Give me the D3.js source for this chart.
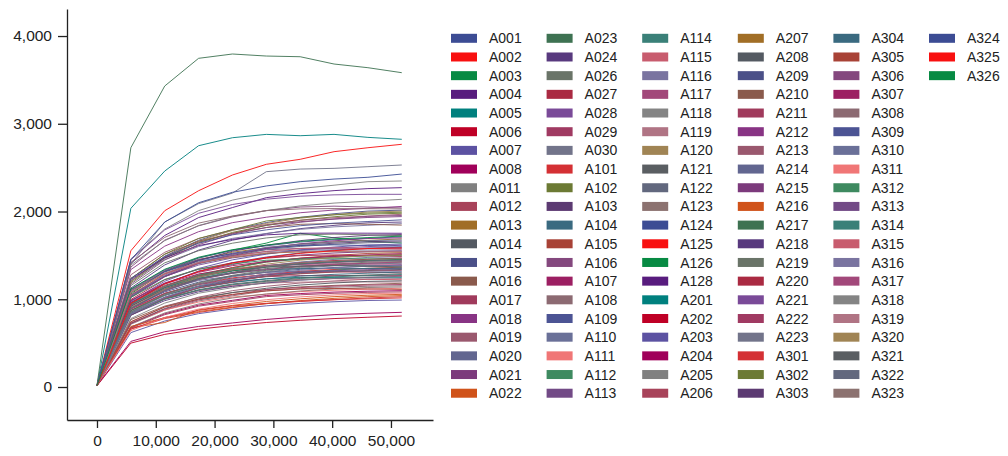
<!DOCTYPE html>
<html>
<head>
<meta charset="utf-8">
<script src="https://cdn.jsdelivr.net/npm/d3@7"></script>
<style>
  html, body { margin: 0; padding: 0; background: #fff; }
  svg { display: block; font-family: "Liberation Sans", Arial, sans-serif; }
</style>
</head>
<body>
<div id="chart"></div>
<script>
// x positions shared by every series
const xValues = [0, 5760, 11520, 17280, 23040, 28800, 34560, 40320, 46080, 51840];

const xTicks = [0, 10000, 20000, 30000, 40000, 50000];
const yTicks = [0, 1000, 2000, 3000, 4000];

// series colours, the legend cycles through these 50
const palette = [
  "#3c4c94", "#f81010", "#078a43", "#581c7e", "#00807e", "#bf0026", "#5c52a2", "#a0005a", "#808080", "#a8435a",
  "#a16e26", "#545a62", "#4b5088", "#8a5a4c", "#a03a5c", "#883484", "#9a586e", "#626690", "#7c3a7c", "#d0531a",
  "#3e7252", "#58397e", "#6a7468", "#aa2a42", "#7a4a98", "#a03a62", "#72748a", "#d43034", "#6c7a34", "#5c3a72",
  "#3a6a80", "#a84236", "#84487e", "#9c1f62", "#8c6a72", "#4c5494", "#6a7098", "#f07676", "#3e8a60", "#724a86",
  "#3a8078", "#c85c6e", "#7a74a0", "#a2487a", "#848484", "#b07484", "#a08454", "#5a5e62", "#62687e", "#8c7270"
];

const namesA0 = ["A001","A002","A003","A004","A005","A006","A007","A008","A011","A012","A013","A014","A015","A016",
  "A017","A018","A019","A020","A021","A022","A023","A024","A026","A027","A028","A029","A030"];
const valuesA0 = [
  [15,955,1178,1321,1417,1481,1528,1560,1584,1592],
  [20,888,1065,1175,1243,1284,1318,1339,1352,1366],
  [14,1060,1320,1470,1560,1640,1752,1700,1660,1640],
  [18,1409,1727,1931,2045,2158,2204,2238,2261,2272],
  [16,872,1047,1146,1196,1234,1250,1248,1244,1246],
  [19,956,1147,1264,1338,1382,1419,1441,1455,1470],
  [15,620,752,836,889,925,953,972,986,991],
  [17,681,834,933,988,1043,1065,1082,1092,1098],
  [21,852,1051,1179,1264,1321,1363,1392,1413,1420],
  [16,871,1066,1170,1235,1281,1307,1313,1307,1300],
  [18,1097,1317,1452,1536,1587,1629,1654,1671,1688],
  [20,966,1159,1270,1325,1366,1380,1384,1382,1380],
  [15,1209,1491,1672,1793,1874,1934,1975,2005,2015],
  [17,768,922,1017,1076,1111,1141,1158,1170,1182],
  [19,936,1148,1284,1359,1435,1465,1487,1502,1510],
  [16,1338,1605,1770,1873,1935,1986,2017,2037,2058],
  [18,740,913,1024,1098,1148,1185,1209,1228,1234],
  [20,1092,1310,1435,1498,1544,1560,1563,1561,1560],
  [15,1204,1476,1651,1748,1845,1884,1913,1932,1942],
  [18,676,735,880,930,975,1005,1030,1046,1056],
  [17,871,1045,1152,1219,1260,1293,1313,1327,1340],
  [19,1128,1391,1560,1673,1748,1805,1842,1871,1880],
  [16,1156,1415,1553,1639,1699,1734,1742,1734,1725],
  [21,899,1102,1233,1305,1378,1407,1428,1443,1450],
  [15,1050,1260,1390,1471,1519,1559,1584,1600,1616],
  [18,889,1067,1168,1219,1257,1270,1272,1270,1270],
  [20,1400,1880,2090,2210,2454,2484,2492,2511,2530]
];

const namesA1 = ["A101","A102","A103","A104","A105","A106","A107","A108","A109","A110","A111","A112","A113","A114",
  "A115","A116","A117","A118","A119","A120","A121","A122","A123","A124","A125","A126","A128"];
const valuesA1 = [
  [17,660,780,850,905,950,975,995,1015,1029],
  [19,1188,1465,1643,1762,1841,1901,1940,1970,1980],
  [16,1032,1265,1414,1498,1581,1614,1639,1656,1664],
  [18,852,1022,1127,1192,1231,1264,1284,1297,1310],
  [20,918,1132,1270,1362,1423,1469,1499,1522,1530],
  [15,1367,1674,1837,1939,2010,2051,2061,2051,2041],
  [17,980,1176,1288,1344,1386,1400,1402,1401,1400],
  [19,715,877,981,1039,1096,1119,1137,1148,1154],
  [16,1113,1335,1472,1558,1609,1652,1678,1695,1712],
  [18,890,1098,1232,1321,1380,1425,1454,1477,1484],
  [20,732,878,968,1025,1058,1087,1103,1115,1126],
  [15,930,1140,1275,1350,1425,1455,1478,1493,1500],
  [17,1106,1327,1454,1517,1564,1580,1582,1581,1580],
  [19,816,1006,1129,1210,1265,1306,1333,1353,1360],
  [16,819,1002,1100,1161,1204,1228,1234,1228,1222],
  [18,1210,1452,1601,1694,1750,1797,1825,1843,1862],
  [20,893,1094,1224,1296,1368,1397,1418,1433,1440],
  [16,1460,1800,2010,2130,2210,2262,2300,2340,2348],
  [17,837,1005,1100,1148,1184,1196,1198,1197,1196],
  [19,1202,1483,1663,1784,1864,1924,1964,1994,2004],
  [15,839,1006,1109,1174,1213,1245,1264,1277,1290],
  [18,1024,1256,1404,1487,1569,1602,1627,1644,1652],
  [20,684,844,946,1015,1060,1094,1117,1134,1140],
  [16,1075,1315,1444,1524,1580,1612,1620,1612,1604],
  [22,1553,2009,2237,2416,2538,2595,2682,2727,2766],
  [17,946,1136,1252,1325,1369,1405,1427,1441,1456],
  [19,1226,1472,1612,1682,1734,1752,1754,1753,1752]
];

const namesA2 = ["A201","A202","A203","A204","A205","A206","A207","A208","A209","A210","A211","A212","A213","A214",
  "A215","A216","A217","A218","A219","A220","A221","A222","A223"];
const valuesA2 = [
  [15,2036,2461,2750,2841,2879,2864,2879,2845,2823],
  [14,500,600,660,700,735,760,780,795,809],
  [18,977,1205,1351,1449,1514,1563,1595,1620,1628],
  [18,520,630,690,730,770,800,825,840,851],
  [16,1390,1668,1840,1946,2011,2064,2096,2118,2139],
  [19,825,1011,1131,1197,1264,1290,1310,1323,1330],
  [17,1078,1294,1417,1478,1525,1540,1542,1541,1540],
  [20,726,895,1004,1077,1125,1162,1186,1204,1210],
  [15,904,1084,1195,1265,1307,1341,1362,1376,1390],
  [18,1236,1513,1661,1753,1817,1854,1863,1854,1845],
  [16,672,824,921,976,1030,1051,1068,1079,1084],
  [19,1020,1258,1411,1513,1581,1632,1666,1692,1700],
  [17,1279,1535,1692,1791,1850,1899,1929,1948,1968],
  [20,924,1109,1214,1267,1307,1320,1322,1321,1320],
  [15,961,1178,1318,1395,1473,1504,1527,1542,1550],
  [16,690,790,860,910,950,985,1010,1030,1042],
  [20,2727,3430,3746,3795,3772,3764,3681,3639,3582],
  [19,820,984,1085,1148,1186,1218,1237,1249,1262],
  [18,858,1058,1187,1273,1330,1373,1401,1423,1430],
  [17,998,1222,1341,1416,1468,1497,1505,1497,1490],
  [18,1450,1790,1980,2080,2140,2175,2190,2196,2196],
  [16,724,888,993,1051,1110,1133,1150,1162,1168],
  [19,846,1043,1170,1255,1311,1354,1382,1403,1410]
];

const namesA3 = ["A301","A302","A303","A304","A305","A306","A307","A308","A309","A310","A311","A312","A313","A314",
  "A315","A316","A317","A318","A319","A320","A321","A322","A323","A324","A325","A326"];
const valuesA3 = [
  [17,660,792,873,924,954,979,995,1005,1015],
  [19,1235,1514,1693,1793,1892,1932,1962,1982,1992],
  [16,1043,1286,1443,1547,1616,1668,1703,1729,1738],
  [18,945,1134,1242,1296,1337,1350,1352,1351,1350],
  [20,745,912,1001,1056,1095,1118,1123,1118,1112],
  [15,1173,1447,1623,1740,1818,1877,1916,1945,1955],
  [17,988,1186,1307,1383,1429,1467,1490,1505,1520],
  [19,1421,1705,1868,1949,2010,2030,2034,2032,2030],
  [16,1238,1486,1638,1734,1791,1838,1867,1886,1905],
  [18,1039,1274,1425,1508,1592,1626,1651,1668,1676],
  [20,642,792,888,952,995,1027,1049,1065,1070],
  [15,1022,1226,1343,1402,1445,1460,1462,1461,1460],
  [17,834,1022,1143,1211,1278,1305,1325,1338,1345],
  [19,833,1000,1103,1167,1205,1237,1256,1269,1282],
  [16,1052,1287,1413,1492,1546,1578,1586,1578,1570],
  [18,831,1025,1150,1233,1288,1330,1357,1378,1385],
  [20,926,1112,1226,1297,1340,1375,1397,1411,1425],
  [15,780,956,1069,1132,1195,1220,1239,1252,1258],
  [17,1082,1298,1421,1483,1530,1545,1547,1546,1545],
  [19,903,1114,1249,1339,1400,1445,1475,1497,1505],
  [16,918,1123,1233,1302,1350,1377,1384,1377,1370],
  [18,896,1098,1228,1301,1373,1402,1423,1438,1445],
  [20,952,1143,1260,1333,1377,1414,1436,1450,1465],
  [18,1450,1880,2100,2219,2291,2340,2370,2390,2427],
  [15,952,1174,1316,1412,1475,1523,1554,1578,1586],
  [17,1118,1342,1479,1565,1617,1660,1686,1703,1720]
];

const width = 1008, height = 456;

const names = [...namesA0, ...namesA1, ...namesA2, ...namesA3];
const values = [...valuesA0, ...valuesA1, ...valuesA2, ...valuesA3];
const series = names.map((n, i) => ({
  name: n,
  color: palette[i % palette.length],
  points: xValues.map((x, j) => [x, values[i][j]])
}));

const svg = d3.select("#chart").append("svg")
  .attr("width", width)
  .attr("height", height);

// plot area (range padded round the data like the original)
const x = d3.scaleLinear().domain([-5100, 57150]).range([67, 433]);
const y = d3.scaleLinear().domain([-376, 4308]).range([420, 9]);

const line = d3.line()
  .x(d => x(d[0]))
  .y(d => y(d[1]));

svg.append("g")
  .selectAll("path")
  .data(series)
  .enter()
  .append("path")
  .attr("d", d => line(d.points))
  .attr("fill", "none")
  .attr("stroke", d => d.color)
  .attr("stroke-width", 1)
  .attr("stroke-opacity", 0.9)
  .attr("stroke-linejoin", "round");

// axes
const fmt = d3.format(",");

const xAxis = svg.append("g")
  .attr("transform", "translate(0,420)")
  .call(d3.axisBottom(x).tickValues(xTicks).tickFormat(fmt).tickSize(8).tickSizeOuter(0).tickPadding(7));

const yAxis = svg.append("g")
  .attr("transform", "translate(67,0)")
  .call(d3.axisLeft(y).tickValues(yTicks).tickFormat(fmt).tickSize(9).tickSizeOuter(0).tickPadding(6));

[xAxis, yAxis].forEach(a => {
  a.select(".domain").attr("stroke", "#222").attr("stroke-width", 1.3);
  a.selectAll(".tick line").attr("stroke", "#222").attr("stroke-width", 1.3);
  a.selectAll(".tick text")
    .attr("fill", "#222")
    .style("font-family", "'Liberation Sans', Arial, sans-serif")
    .style("font-size", "15.5px");
});

// legend, column-major, 20 rows per column
const rowsPerCol = 20;
const legend = svg.append("g");
const item = legend.selectAll("g")
  .data(series)
  .enter()
  .append("g")
  .attr("transform", (d, i) => {
    const col = Math.floor(i / rowsPerCol), row = i % rowsPerCol;
    return `translate(${451 + col * 95.6},${38.3 + row * 18.68})`;
  });

item.append("rect")
  .attr("x", 0)
  .attr("y", -4.5)
  .attr("width", 26)
  .attr("height", 9)
  .attr("fill", d => d.color);

item.append("text")
  .attr("x", 38)
  .attr("y", 0)
  .attr("dy", "0.36em")
  .attr("fill", "#222")
  .style("font-size", "14px")
  .text(d => d.name);
</script>
</body>
</html>
